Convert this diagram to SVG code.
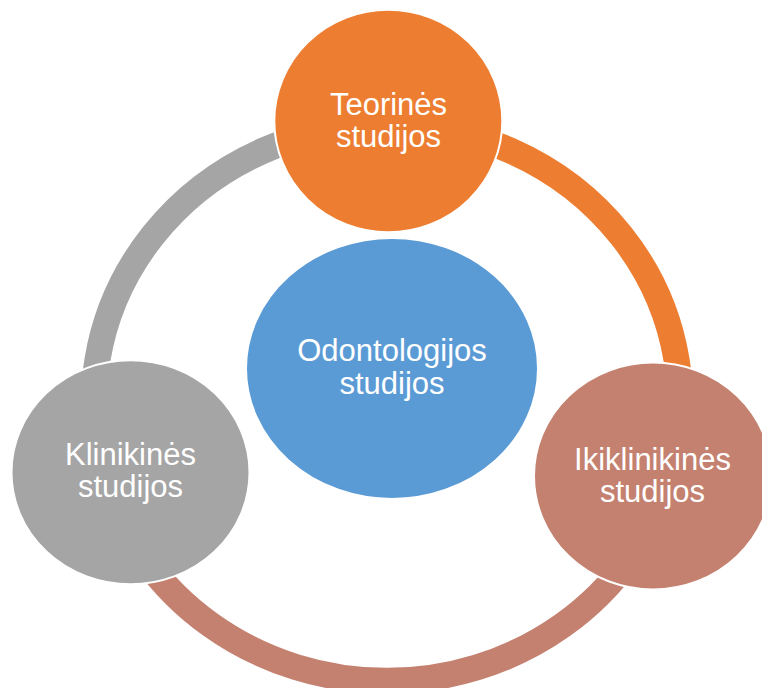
<svg xmlns="http://www.w3.org/2000/svg" width="762" height="688" viewBox="0 0 762 688">
<style>
.arc{fill:none;stroke-width:26}
.node{stroke:#ffffff;stroke-width:2}
.lbl{font-family:"Liberation Sans",Arial,sans-serif;font-size:31px;fill:#ffffff;text-anchor:middle}
</style>
<rect width="762" height="688" fill="#ffffff"/>
<g id="connectors">
<path class="arc" stroke="#ED7D31" d="M387,124.7 A293,278 0 0 1 668.4,480.3"/>
<path class="arc" stroke="#C48170" d="M668.4,480.3 A293,278 0 0 1 105.3,479.3"/>
<path class="arc" stroke="#A5A5A5" d="M105.3,479.3 A293,278 0 0 1 387,124.7"/>
</g>
<g id="node-center">
<ellipse class="node" cx="392" cy="368.4" rx="146" ry="130.5" fill="#5B9BD5"/>
<text class="lbl" x="392" y="361">Odontologijos</text>
<text class="lbl" x="392" y="393.5">studijos</text>
</g>
<g id="node-teorines">
<ellipse class="node" cx="388.3" cy="121" rx="114" ry="111.2" fill="#ED7D31"/>
<text class="lbl" x="388.5" y="115">Teorinės</text>
<text class="lbl" x="388.5" y="147">studijos</text>
</g>
<g id="node-ikiklinikines">
<ellipse class="node" cx="653" cy="476" rx="119" ry="113.5" fill="#C48170"/>
<text class="lbl" x="652.5" y="470">Ikiklinikinės</text>
<text class="lbl" x="652.5" y="502">studijos</text>
</g>
<g id="node-klinikines">
<ellipse class="node" cx="130.5" cy="472.3" rx="119" ry="112" fill="#A5A5A5"/>
<text class="lbl" x="130.5" y="465">Klinikinės</text>
<text class="lbl" x="130.5" y="497">studijos</text>
</g>
</svg>
